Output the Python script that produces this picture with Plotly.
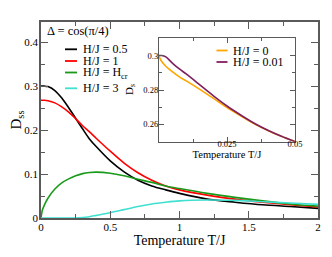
import plotly.graph_objects as go

# ---------------- data ----------------
T_main = [0, 0.01, 0.025, 0.05, 0.1, 0.15, 0.2, 0.25, 0.3, 0.35, 0.4, 0.5, 0.6, 0.7, 0.8, 0.9, 1.0, 1.2, 1.4, 1.6, 1.8, 2.0]
D_h05 = [0.300, 0.300, 0.300, 0.299, 0.290, 0.273, 0.251, 0.227, 0.203, 0.180, 0.162, 0.130, 0.105, 0.086, 0.073, 0.064, 0.056, 0.043, 0.036, 0.030, 0.026, 0.022]
D_h1 = [0.268, 0.268, 0.268, 0.267, 0.262, 0.253, 0.241, 0.226, 0.210, 0.196, 0.181, 0.152, 0.125, 0.103, 0.086, 0.073, 0.064, 0.052, 0.043, 0.036, 0.030, 0.025]
D_hcr = [0.0, 0.018, 0.030, 0.045, 0.066, 0.080, 0.089, 0.096, 0.101, 0.1035, 0.1045, 0.102, 0.096, 0.088, 0.081, 0.073, 0.067, 0.056, 0.047, 0.039, 0.032, 0.027]
D_h3 = [0.0, 0.0, 0.0, 0.0, 0.0, 0.0, 0.0, 0.0, 0.001, 0.003, 0.006, 0.012, 0.019, 0.026, 0.032, 0.036, 0.039, 0.041, 0.040, 0.037, 0.034, 0.031]

T_inset = [0, 0.001, 0.0025, 0.005, 0.0075, 0.01, 0.015, 0.02, 0.025, 0.03, 0.035, 0.04, 0.045, 0.05]
D_h0 = [0.2995, 0.2965, 0.2938, 0.2905, 0.2876, 0.2853, 0.2804, 0.2751, 0.2698, 0.2650, 0.2604, 0.2565, 0.2531, 0.2500]
D_h001 = [0.3000, 0.3000, 0.2992, 0.2955, 0.2922, 0.2893, 0.2830, 0.2766, 0.2707, 0.2655, 0.2607, 0.2566, 0.2531, 0.2500]

main_labels = ["H/J = 0.5", "H/J = 1", "H/J = H<sub>cr</sub>", "H/J = 3"]
inset_labels = ["H/J = 0", "H/J = 0.01"]

# ---------------- style ----------------
# the page body has an 8px margin, so the figure is placed at (8, 8) in the window
OFF = 8
W, H = 332 - OFF, 257 - OFF
ML, MR, MT, MB = 41 - OFF, 14, 22 - OFF, 39
PW, PH = W - ML - MR, H - MT - MB
FONT = "Liberation Serif"
AX = "#5a5a5a"
cols_main = ["#000000", "#ff0000", "#1a9a1a", "#40e0d0"]
cols_inset = ["#ffa500", "#7f1f5f"]


def px(x):  # window pixel -> paper fraction
    return (x - 41) / PW


def py(y):
    return (218 - y) / PH


fig = go.Figure()
for d, c in zip([D_h05, D_h1, D_hcr, D_h3], cols_main):
    fig.add_trace(go.Scatter(x=T_main, y=d, mode="lines", showlegend=False,
                             line=dict(color=c, width=1.6, shape="spline", smoothing=0.8),
                             xaxis="x", yaxis="y"))
for d, c in zip([D_h0, D_h001], cols_inset):
    fig.add_trace(go.Scatter(x=T_inset, y=d, mode="lines", showlegend=False,
                             line=dict(color=c, width=1.6, shape="spline", smoothing=0.8),
                             xaxis="x2", yaxis="y2"))

axcommon = dict(showline=True, linecolor=AX, mirror="ticks", ticks="inside",
                tickcolor=AX, showgrid=False, zeroline=False, automargin=False)

fig.update_layout(
    width=W, height=H, margin=dict(l=ML, r=MR, t=MT, b=MB, autoexpand=False),
    paper_bgcolor="white", plot_bgcolor="white",
    font=dict(family=FONT, color="black"),
    xaxis=dict(domain=[0, 1], range=[0, 2], dtick=0.5, tick0=0, ticklen=7, tickwidth=1.2,
               linewidth=1.5, ticklabelstandoff=-2,
               minor=dict(dtick=0.25, ticks="inside", ticklen=4, tickcolor=AX, tickwidth=1.2),
               tickfont=dict(size=11, family=FONT),
               title=dict(text="Temperature T/J", font=dict(size=14, family=FONT), standoff=0),
               **axcommon),
    yaxis=dict(domain=[0, 1], range=[0, 0.446], dtick=0.1, tick0=0, ticklen=7, tickwidth=1.2,
               linewidth=1.5, ticklabelstandoff=-1,
               minor=dict(dtick=0.05, ticks="inside", ticklen=4, tickcolor=AX, tickwidth=1.2),
               tickfont=dict(size=11, family=FONT),
               title=dict(text="D<sub>ss</sub>", font=dict(size=15, family=FONT), standoff=4),
               **axcommon),
    xaxis2=dict(domain=[px(159), px(295)], anchor="y2", range=[0, 0.05],
                tickvals=[0.025, 0.05], ticklen=5, tickwidth=1, linewidth=1.2,
                ticklabelstandoff=-6,
                minor=dict(dtick=0.0125, ticks="inside", ticklen=3, tickcolor=AX, tickwidth=1),
                tickfont=dict(size=8.5, family=FONT),
                title=dict(text="Temperature T/J", font=dict(size=10.5, family=FONT), standoff=0),
                **axcommon),
    yaxis2=dict(domain=[py(141.7), py(38.3)], anchor="x2", range=[0.25, 0.31],
                tick0=0.26, dtick=0.02, ticklen=5, tickwidth=1, linewidth=1.2,
                ticklabelstandoff=-2,
                minor=dict(dtick=0.01, ticks="inside", ticklen=3, tickcolor=AX, tickwidth=1),
                tickfont=dict(size=8.5, family=FONT),
                **axcommon),
)

# inset y title, legend keys and labels (decoration in paper coordinates)
ann = [dict(text="Δ = cos(π/4)", x=px(45), y=py(31.5), xref="paper", yref="paper",
            xanchor="left", yanchor="middle", showarrow=False, font=dict(size=12.5, family=FONT)),
       dict(text="D<sub>s</sub>", x=px(130), y=py(90), xref="paper", yref="paper", textangle=-90,
            xanchor="center", yanchor="middle", showarrow=False, font=dict(size=11, family=FONT))]
shapes = []
for lab, c, yy in zip(main_labels, cols_main, [49.3, 61, 72.5, 88.3]):
    ann.append(dict(text=lab, x=px(81), y=py(yy), xref="paper", yref="paper", xanchor="left",
                    yanchor="middle", showarrow=False, font=dict(size=12, family=FONT)))
    shapes.append(dict(type="line", xref="paper", yref="paper", x0=px(65), x1=px(77),
                       y0=py(yy), y1=py(yy), line=dict(color=c, width=1.8)))
for lab, c, yy in zip(inset_labels, cols_inset, [50.5, 62]):
    ann.append(dict(text=lab, x=px(231), y=py(yy), xref="paper", yref="paper", xanchor="left",
                    yanchor="middle", showarrow=False, font=dict(size=12, family=FONT)))
    shapes.append(dict(type="line", xref="paper", yref="paper", x0=px(216.5), x1=px(227.5),
                       y0=py(yy), y1=py(yy), line=dict(color=c, width=1.8)))
fig.update_layout(annotations=ann, shapes=shapes)

fig.write_html("out.html")
